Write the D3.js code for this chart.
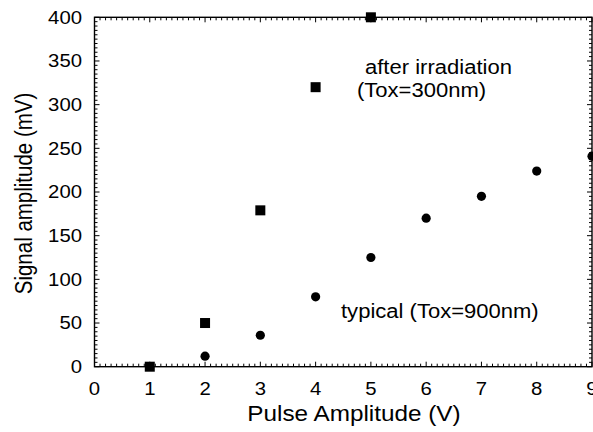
<!DOCTYPE html>
<html><head><meta charset="utf-8">
<script src="https://cdn.jsdelivr.net/npm/d3@7"></script>
<style>body{margin:0;background:#fff}text{font-family:"Liberation Sans",Arial,sans-serif;fill:#000}</style>
</head><body>
<svg id="c" width="593" height="432"></svg>
<script>
const irrX = [1, 2, 3, 4, 5];
const irrY = [0, 50, 179, 320, 400];
const typX = [2, 3, 4, 5, 6, 7, 8, 9];
const typY = [12, 36, 80, 125, 170, 195, 224, 241];
const xTicks = [0,1,2,3,4,5,6,7,8,9];
const yTicks = [0,50,100,150,200,250,300,350,400];

const svg = d3.select("#c");
const L = 94.5, R = 592, T = 17.3, B = 366.7;
const SX = 1.13; // horizontal stretch of the reference figure
const x = d3.scaleLinear().domain([0, 9]).range([L, R]);
const y = d3.scaleLinear().domain([0, 400]).range([B, T]);

const g = svg.append("g");
// ticks (minor + major) on all four sides, pointing inward
const xMinor = d3.range(0, 9.0001, 0.1);
const yMinor = d3.range(0, 400.001, 5);
const tk = g.append("g").attr("stroke", "#000").attr("stroke-width", 1);
xMinor.forEach(v => {
  const major = Math.abs(v - Math.round(v)) < 1e-6;
  const len = major ? 5 : 3;
  tk.append("line").attr("x1", x(v)).attr("x2", x(v)).attr("y1", B).attr("y2", B - len);
  tk.append("line").attr("x1", x(v)).attr("x2", x(v)).attr("y1", T).attr("y2", T + len);
});
yMinor.forEach(v => {
  const major = Math.abs(v % 50) < 1e-6;
  const len = major ? 5 : 3;
  tk.append("line").attr("x1", L).attr("x2", L + len).attr("y1", y(v)).attr("y2", y(v));
  tk.append("line").attr("x1", R).attr("x2", R - len).attr("y1", y(v)).attr("y2", y(v));
});
// frame
g.append("rect").attr("x", L).attr("y", T).attr("width", R - L).attr("height", B - T)
  .attr("fill", "none").attr("stroke", "#000").attr("stroke-width", 1.4);

// tick labels
g.selectAll(".xl").data(xTicks).enter().append("text")
  .attr("transform", d => `translate(${x(d)},394.5) scale(${SX},1)`)
  .attr("text-anchor", "middle").attr("font-size", 18).text(d => d3.format("d")(d));
g.selectAll(".yl").data(yTicks).enter().append("text")
  .attr("transform", d => `translate(82,${y(d)}) scale(${SX},1)`)
  .attr("text-anchor", "end").attr("dy", "0.35em").attr("font-size", 18).text(d => d3.format("d")(d));

// titles
svg.append("text").attr("transform", `translate(354,421) scale(${SX},1)`).attr("text-anchor", "middle")
  .attr("font-size", 21.5).text("Pulse Amplitude (V)");
svg.append("text").attr("transform", `translate(32,193.5) scale(${SX},1) rotate(-90)`).attr("text-anchor", "middle")
  .attr("font-size", 20.5).text("Signal amplitude (mV)");

// annotations
function ann(px, py, s) {
  svg.append("text").attr("transform", `translate(${px},${py}) scale(${SX},1)`).attr("font-size", 19.5).text(s);
}
ann(365, 74, "after irradiation");
ann(357, 97, "(Tox=300nm)");
ann(341, 318, "typical (Tox=900nm)");

// marks
const sq = 10;
g.selectAll(".sq").data(irrX.map((d, i) => [d, irrY[i]])).enter().append("rect")
  .attr("x", d => x(d[0]) - sq / 2).attr("y", d => y(d[1]) - sq / 2)
  .attr("width", sq).attr("height", sq).attr("fill", "#000");
g.selectAll(".ci").data(typX.map((d, i) => [d, typY[i]])).enter().append("circle")
  .attr("cx", d => x(d[0])).attr("cy", d => y(d[1])).attr("r", 4.6).attr("fill", "#000");
</script>
</body></html>
